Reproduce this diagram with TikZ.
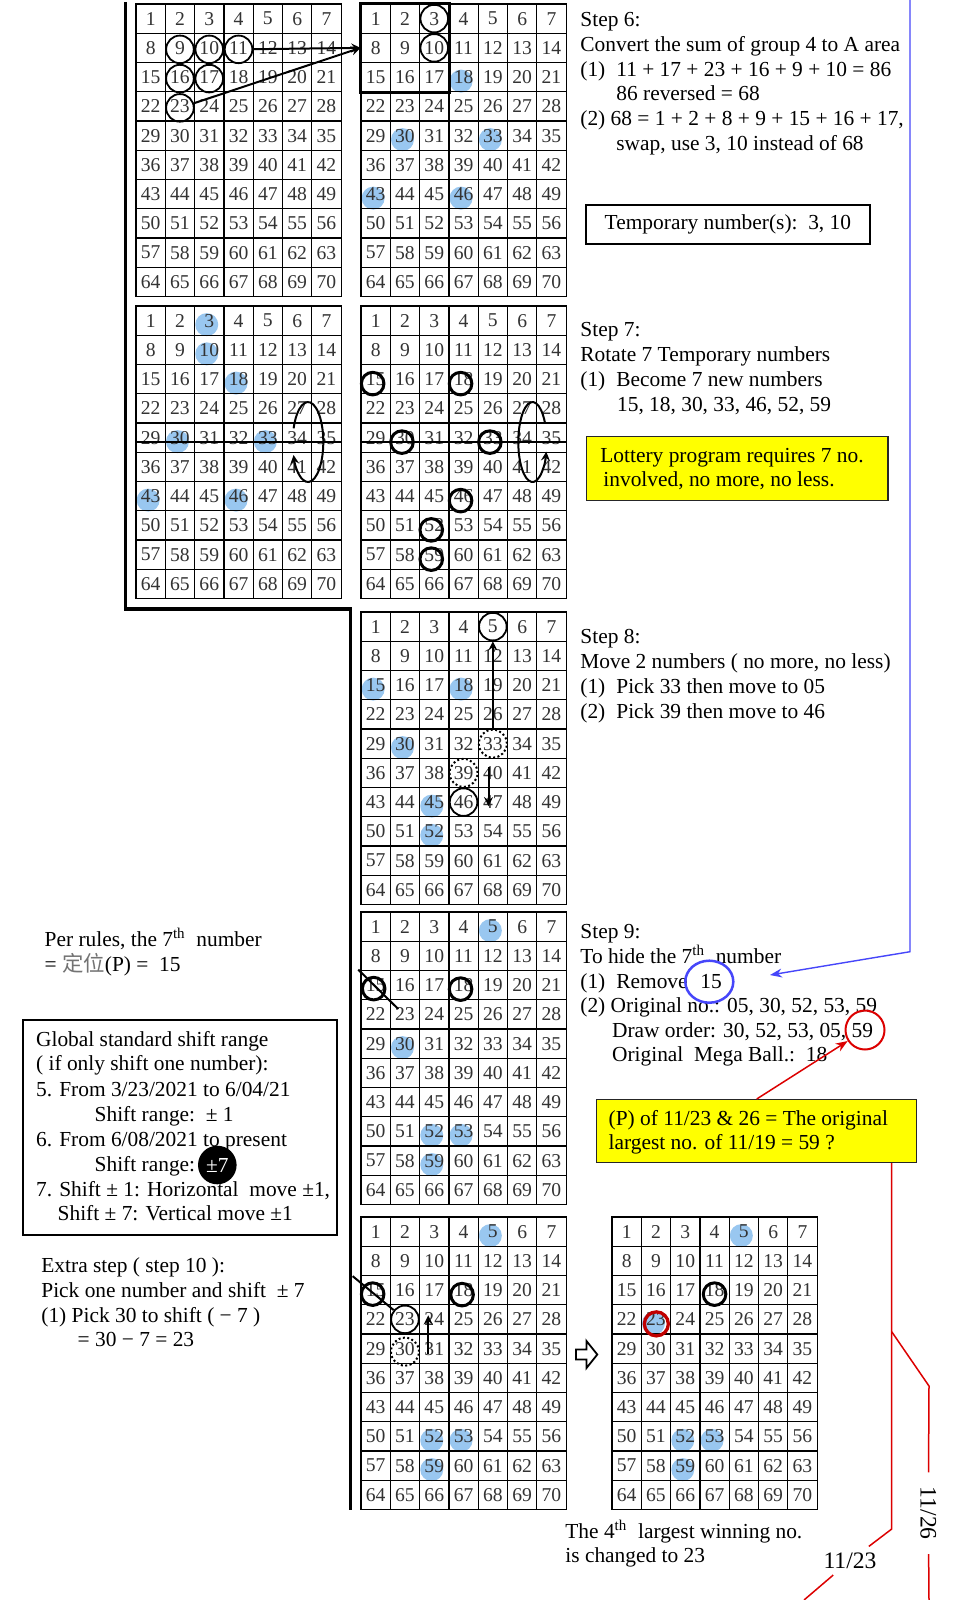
\documentclass[tikz,border=0pt]{standalone}
\usepackage{fontspec}
\setmainfont{Liberation Serif}
\newfontfamily\cjkfont{Noto Sans CJK SC}
\usetikzlibrary{calc,backgrounds,shapes.geometric,arrows.meta}

\definecolor{hlblue}{RGB}{153,199,240}
\definecolor{boxyellow}{RGB}{255,255,0}
\definecolor{darkred}{RGB}{192,0,0}
\definecolor{linkblue}{RGB}{70,70,250}
\definecolor{linkred}{RGB}{220,0,0}

% 7 x 10 number grid: name, left, top
\newcommand{\lotgrid}[3]{%
  \foreach \r in {0,...,9}
    \foreach \c in {0,...,6} {
      \pgfmathtruncatemacro{\n}{7*\r+\c+1}
      \node[cell] (#1-\n) at ({#2+(\c+0.5)*29.3},{#3+(\r+0.5)*29.25}) {\n};
    }%
}

\begin{document}
\begin{tikzpicture}[
		x=0.5pt, y=-0.5pt,
		>=stealth,
		cell/.style={draw, line width=0.6pt, minimum width=14.65pt, minimum height=14.625pt,
			inner sep=0pt, font=\fontsize{9.8}{10}\selectfont, text=black!80},
		txt/.style={anchor=base west, inner sep=0pt, font=\fontsize{10.7}{12}\selectfont},
		ring/.style={circle, draw, line width=0.9pt, minimum size=13.8pt, inner sep=0pt},
		boldring/.style={circle, draw, line width=1.5pt, minimum size=11.3pt, inner sep=0pt},
		dotring/.style={circle, draw, line width=1pt, dash pattern=on 1pt off 1.2pt, minimum size=14pt, inner sep=0pt},
		hl/.style={fill=hlblue},
		ybox/.style={draw=black!85, fill=boxyellow, line width=0.65pt, anchor=north west, inner sep=0pt},
		framebox/.style={draw, line width=0.9pt, anchor=north west, inner sep=0pt, font=\fontsize{10.7}{12}\selectfont},
		redline/.style={draw=linkred, line width=0.75pt},
		datelabel/.style={inner xsep=7pt, inner ysep=3pt, font=\fontsize{11.8}{13}\selectfont},
		bigtip/.style={-{Stealth[length=6pt,width=4.5pt]}}
	]

	\useasboundingbox (0,0) rectangle (959,1600);

	% Grids
	\lotgrid{g1}{136}{4}
	\lotgrid{g2}{361}{4}
	\lotgrid{g3}{136}{306}
	\lotgrid{g4}{361}{306}
	\lotgrid{g5}{361}{612}
	\lotgrid{g6}{361}{912}
	\lotgrid{g7}{361}{1217}
	\lotgrid{g8}{612}{1217}

	% Drawn numbers (blue)
	\begin{scope}[on background layer]
		\fill[white] (0,0) rectangle (959,1600);
		\foreach \n in {18,30,33,43,46} \fill[hl] ($(g2-\n)+(-2.5,4)$) circle (5.75pt);
		\foreach \n in {3,10,18,30,33,43,46} \fill[hl] ($(g3-\n)+(-2.5,4)$) circle (5.75pt);
		\foreach \n in {15,18,30,45,52} \fill[hl] ($(g5-\n)+(-2.5,4)$) circle (5.75pt);
		\foreach \n in {5,30,52,53,59} \fill[hl] ($(g6-\n)+(-2.5,4)$) circle (5.75pt);
		\foreach \n in {5,52,53,59} \fill[hl] ($(g7-\n)+(-2.5,4)$) circle (5.75pt);
		\foreach \n in {5,23,52,53,59} \fill[hl] ($(g8-\n)+(-2.5,4)$) circle (5.75pt);
	\end{scope}

	% Frame line
	\coordinate (L1) at (125.5,2);
	\coordinate (L2) at (125.5,609);
	\coordinate (L3) at (350.5,609);
	\coordinate (L4) at (350.5,1510);
	\draw[line width=1.75pt] (L1) -- (L2) -- (L3) -- (L4);

	% Step 6
	\foreach \n in {9,10,11,16,17,23} \node[ring] (r1-\n) at ($(g1-\n)+(0,1.5)$) {};
	\foreach \n in {3,10} \node[ring] (r2-\n) at (g2-\n) {};
	\draw[->, line width=1pt] (r1-11) -- (g2-8.west);
	\draw[->, line width=1pt] (r1-23) -- (g2-8.west);
	\draw[line width=1.5pt] (g2-1.north west) rectangle (g2-17.south east);

	% Step 7
	\draw[line width=1pt] ([yshift=-2pt]g3-29.west) -- ([yshift=-2pt]g3-35.east);
	\draw[line width=1pt] ([yshift=-2pt]g4-29.west) -- ([yshift=-2pt]g4-35.east);
	\coordinate (e3) at ($(g3-34)+(10.85,4.4)$);
	\coordinate (e4) at ($(g4-34)+(10.35,4.4)$);
	\draw[->, line width=1pt] ($(e3)+(160:7.65pt and 20pt)$)
		arc[start angle=160, end angle=-161, x radius=7.65pt, y radius=20pt];
	\draw[->, line width=1pt] ($(e4)+(30:7.1pt and 20pt)$)
		arc[start angle=30, end angle=346, x radius=7.1pt, y radius=20pt];
	\foreach \n in {15,18,30,33,46,52,59} \node[boldring] (b4-\n) at ($(g4-\n)+(-3,4.5)$) {};

	% Step 8
	\node[ring] (r5-5) at (g5-5) {};
	\node[ring] (r5-46) at (g5-46) {};
	\node[dotring] (d5-33) at (g5-33) {};
	\node[dotring] (d5-39) at (g5-39) {};
	\draw[->, line width=1pt] (d5-33) -- (r5-5);
	\coordinate (m5a) at ($(g5-40)+(-4.3,-6)$);
	\coordinate (m5b) at ($(g5-47)+(-4.3,4)$);
	\draw[->, line width=1pt] (m5a) -- (m5b);

	% Step 9
	\node[boldring] (b6-15) at ($(g6-15)+(-2,3.5)$) {};
	\node[boldring] (b6-18) at ($(g6-18)+(-3,4)$) {};
	\draw[line width=1pt] ($(b6-15)+(-15.4,-19)$) -- ($(b6-15)+(24.6,20.4)$);

	% Step 10
	\node[boldring] (b7-15) at ($(g7-15)+(-3,4)$) {};
	\node[boldring] (b7-18) at ($(g7-18)+(-1.5,4.5)$) {};
	\node[ring] (r7-23) at (g7-23) {};
	\node[dotring] (d7-30) at ($(g7-30)+(0,3)$) {};
	\coordinate (s7) at ($(b7-15)+(-20,-18)$);
	\draw[line width=1pt] (s7) -- (r7-23);
	\coordinate (m7a) at ($(g7-31)+(-6,5)$);
	\coordinate (m7b) at ($(g7-24)+(-6,-4)$);
	\draw[->, line width=1pt] (m7a) -- (m7b);
	\draw[line width=0.9pt, fill=white] (576,1349.5) -- (586.5,1349.5) -- (586.5,1341)
		-- (597.3,1354.5) -- (586.5,1368) -- (586.5,1359.5) -- (576,1359.5) -- cycle;
	\node[boldring] (b8-18) at ($(g8-18)+(0,4)$) {};
	\node[boldring, draw=darkred, line width=1.65pt, minimum size=12pt] (red23) at ($(g8-23)+(0.4,4.5)$) {};

	% Step 6 text
	\node[txt] (t6a) at (580,27) {Step 6:};
	\node[txt] (t6b) at (580,52) {Convert the sum of group 4 to A area};
	\node[txt] (t6c) at (580,77) {(1)\hspace{5.5pt}11 + 17 + 23 + 16 + 9 + 10 = 86};
	\node[txt] (t6d) at (616,101) {86 reversed = 68};
	\node[txt] (t6e) at (580,126) {(2) 68 = 1 + 2 + 8 + 9 + 15 + 16 + 17,};
	\node[txt] (t6f) at (616,150) {swap, use 3, 10 instead of 68};
	\node[framebox, minimum width=142pt, minimum height=19.35pt] (tmpbox) at (585,204) {Temporary number(s):\ \ 3, 10};

	% Step 7 text
	\node[txt] (t7a) at (580,336.7) {Step 7:};
	\node[txt] (t7b) at (580,361.7) {Rotate 7 Temporary numbers};
	\node[txt] (t7c) at (580,386.7) {(1)\hspace{5.5pt}Become 7 new numbers};
	\node[txt] (t7d) at (616.7,411.7) {15, 18, 30, 33, 46, 52, 59};
	\node[ybox, minimum width=150.65pt, minimum height=32pt] (yb1) at (586,436) {};
	\node[txt] (y1a) at (600,462.7) {Lottery program requires 7 no.};
	\node[txt] (y1b) at (603,486.7) {involved, no more, no less.};

	% Step 8 text
	\node[txt] (t8a) at (580,643.3) {Step 8:};
	\node[txt] (t8b) at (580,668.3) {Move 2 numbers ( no more, no less)};
	\node[txt] (t8c) at (580,693.3) {(1)\hspace{5.5pt}Pick 33 then move to 05};
	\node[txt] (t8d) at (580,718) {(2)\hspace{5.5pt}Pick 39 then move to 46};

	% Step 9 text
	\node[txt] (t9a) at (580,938.3) {Step 9:};
	\node[txt] (t9b) at (580,963) {To hide the 7\textsuperscript{th}\ \ number};
	\node[txt] (t9c) at (580,988) {(1)\hspace{5.5pt}Remove};
	\node[txt] (n15) at (700,988) {15};
	\node[txt] (t9d) at (580,1012) {(2) Original no.: 05, 30, 52, 53, 59};
	\node[txt] (t9e) at (611.7,1037) {Draw order: 30, 52, 53, 05, 59};
	\node[txt] (t9f) at (611.7,1061) {Original\ \ Mega Ball.:\ \ 18};
	\node[ellipse, draw=linkblue, line width=1.25pt, minimum width=24pt, minimum height=21pt] (bl15) at (709.3,981.7) {};
	\node[circle, draw=linkred, line width=1pt, minimum size=19.5pt, inner sep=0pt] (red59) at (865,1030) {};
	\coordinate (bl-top) at (910,0);
	\coordinate (bl-bend) at (910,951.7);
	\coordinate (bl-tip) at (770,975);
	\draw[bigtip, draw=linkblue, line width=0.7pt] (bl-top) -- (bl-bend) -- (bl-tip);

	\node[ybox, minimum width=160.15pt, minimum height=31.35pt] (yb2) at (595.7,1099) {};
	\node[txt] (y2a) at (608.3,1125) {(P) of 11/23 \& 26 = The original};
	\node[txt] (y2b) at (608.3,1149.3) {largest no. of 11/19 = 59 ?};
	\draw[bigtip, draw=linkred, line width=0.75pt] ($(yb2.north west)+(161,0)$) -- (red59);

	% Dates
	\coordinate (rl-top) at ($(yb2.south west)+(296,0)$);
	\coordinate (rl-fork) at (891.7,1331.7);
	\coordinate (rl-low) at (891.7,1529);
	\coordinate (rl-kink) at (929,1386);
	\coordinate (rl-end) at (929,1600);
	\coordinate (rl-out) at (804,1600);
	\node[datelabel, rotate=-90] (d1126) at (928.3,1513.3) {11/26};
	\node[datelabel] (d1123) at (850,1560.7) {11/23};
	\draw[redline] (rl-top) -- (rl-low) -- (d1123);
	\draw[redline] (d1123) -- (rl-out);
	\draw[redline] (rl-fork) -- (rl-kink) -- (d1126);
	\draw[redline] (d1126) -- (rl-end);

	\node[txt] (f1) at (565,1538.3) {The 4\textsuperscript{th}\ \ largest winning no.};
	\node[txt] (f2) at (565,1562.7) {is changed to 23};

	% Left notes
	\node[txt] (p1) at (44.3,946.7) {Per rules, the 7\textsuperscript{th}\ \ number};
	\node[txt] (p2) at (44.3,971.7) {= {\cjkfont\color{black!55}定位}(P) =\ \ 15};

	\node[framebox, minimum width=157pt, minimum height=107.35pt] (rules) at (21.7,1019.3) {};
	\node[txt] (k1) at (35.7,1046) {Global standard shift range};
	\node[txt] (k2) at (35.7,1070.7) {( if only shift one number):};
	\node[txt] (k3) at (35.7,1096) {5. From 3/23/2021 to 6/04/21};
	\node[txt] (k4) at (94.3,1121) {Shift range:\ \ ± 1};
	\node[txt] (k5) at (35.7,1146) {6. From 6/08/2021 to present};
	\node[txt] (k6) at (94.3,1171) {Shift range:};
	\node[circle, fill=black, text=white, minimum size=19.3pt, inner sep=0pt, font=\fontsize{10.7}{12}\selectfont] (pm7) at (217.3,1165) {±7};
	\node[txt] (k7) at (35.7,1196) {7. Shift ± 1: Horizontal\ \ move ±1,};
	\node[txt] (k8) at (57.3,1220) {Shift ± 7: Vertical move ±1};

	\node[txt] (x1) at (41,1272.7) {Extra step ( step 10 ):};
	\node[txt] (x2) at (41,1297) {Pick one number and shift\ \ ± 7};
	\node[txt] (x3) at (41,1322) {(1) Pick 30 to shift ( − 7 )};
	\node[txt] (x4) at (77.3,1346.7) {= 30 − 7 = 23};

\end{tikzpicture}
\end{document}
